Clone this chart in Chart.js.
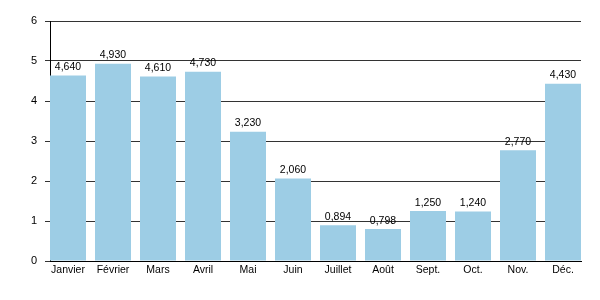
<!DOCTYPE html>
<html lang="fr">
<head>
  <meta charset="UTF-8" />
  <title>Valeurs mensuelles</title>
  <script src="https://cdn.jsdelivr.net/npm/chart.js"></script>
  <style>
    body {
      margin: 0;
      background: #fff;
    }
    #wrap {
      width: 600px;
      height: 300px;
    }
  </style>
</head>
<body>
  <div id="wrap">
    <canvas id="chart" width="600" height="300"></canvas>
  </div>

  <script>
    const months = ['Janvier', 'Février', 'Mars', 'Avril', 'Mai', 'Juin',
                    'Juillet', 'Août', 'Sept.', 'Oct.', 'Nov.', 'Déc.'];
    const values = [4.640, 4.930, 4.610, 4.730, 3.230, 2.060,
                    0.894, 0.798, 1.250, 1.240, 2.770, 4.430];
    const yTicks = [0, 1, 2, 3, 4, 5, 6];

    const FONT = "'Liberation Sans', Arial, sans-serif";

    // value labels above each bar, french decimal comma
    const barLabels = {
      id: 'barLabels',
      afterDatasetsDraw(chart) {
        const ctx = chart.ctx;
        const meta = chart.getDatasetMeta(0);
        ctx.save();
        ctx.font = '10.5px ' + FONT;
        ctx.fillStyle = '#000';
        ctx.textAlign = 'center';
        ctx.textBaseline = 'bottom';
        meta.data.forEach((bar, i) => {
          const txt = values[i].toFixed(3).replace('.', ',');
          ctx.fillText(txt, bar.x, bar.y - 3);
        });
        ctx.restore();
      }
    };

    new Chart(document.getElementById('chart'), {
      type: 'bar',
      data: {
        datasets: [{
          data: values.map((v, i) => ({ x: i, y: v })),
          backgroundColor: '#9dcde5',
          borderWidth: 0,
          categoryPercentage: 1,
          barPercentage: 0.8
        }]
      },
      plugins: [barLabels],
      options: {
        responsive: false,
        animation: false,
        layout: { padding: { top: 21, right: 19, left: 0, bottom: 0 } },
        plugins: {
          legend: { display: false },
          tooltip: { enabled: false }
        },
        scales: {
          x: {
            type: 'linear',
            offset: false,
            min: -0.4,
            max: 11.4,
            afterBuildTicks: scale => {
              scale.ticks = months.map((m, i) => ({ value: i }));
            },
            afterFit: scale => { scale.height = 39; },
            grid: { display: false, drawTicks: false, offset: false },
            border: { display: true, color: '#000', width: 1 },
            ticks: {
              color: '#000',
              font: { family: FONT, size: 10.5 },
              padding: 3,
              maxRotation: 0,
              autoSkip: false,
              callback: v => months[v]
            }
          },
          y: {
            min: 0,
            max: 6,
            afterBuildTicks: scale => {
              scale.ticks = yTicks.map(v => ({ value: v }));
            },
            afterFit: scale => { scale.width = 50; },
            grid: {
              color: '#333',
              lineWidth: 1,
              drawTicks: true,
              tickLength: 5
            },
            border: { display: true, color: '#000', width: 1 },
            ticks: {
              color: '#000',
              font: { family: FONT, size: 11 },
              padding: 8
            }
          }
        }
      }
    });
  </script>
</body>
</html>
